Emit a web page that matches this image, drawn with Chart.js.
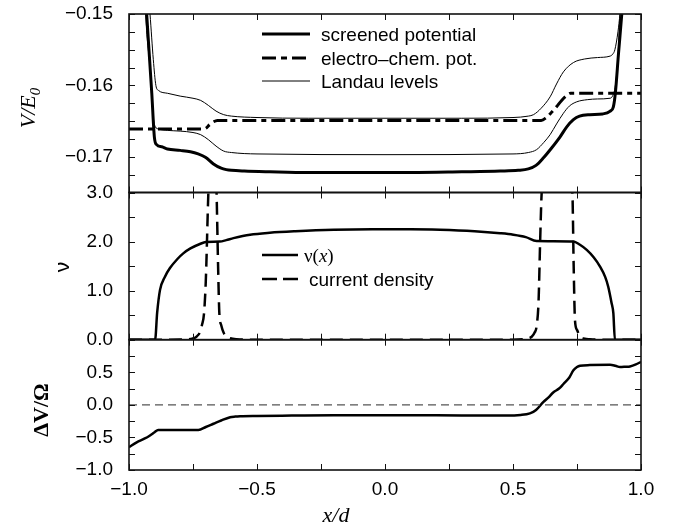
<!DOCTYPE html>
<html>
<head>
<meta charset="utf-8">
<script src="https://cdn.jsdelivr.net/npm/chart.js@4"></script>
<style>
  html, body { margin: 0; padding: 0; background: #fff; }
  #wrap { position: relative; width: 678px; height: 529px; background: #fff; }
  #wrap canvas { position: absolute; left: 0; top: 0; }
</style>
</head>
<body>
<div id="wrap">
  <canvas id="c1" width="678" height="529"></canvas>
  <canvas id="c2" width="678" height="529"></canvas>
  <canvas id="c3" width="678" height="529"></canvas>
</div>
<script>
// ---------- tick values ----------
const xTickMarks = [-1, -0.75, -0.5, -0.25, 0, 0.25, 0.5, 0.75, 1];
const xLabels = [-1, -0.5, 0, 0.5, 1];
const topYLabels = [-0.17, -0.16, -0.15];
const topYMarks = [-0.175, -0.1725, -0.17, -0.1675, -0.165, -0.1625, -0.16, -0.1575, -0.155, -0.1525, -0.15];
const midYLabels = [0, 1, 2, 3];
const midYMarks = [0, 0.5, 1, 1.5, 2, 2.5, 3];
const botYLabels = [-1, -0.5, 0, 0.5];
const botYMarks = [-1, -0.75, -0.5, -0.25, 0, 0.25, 0.5, 0.75, 1];

// ---------- top panel: potentials ----------
const scrX = [-0.95, -0.931, -0.911, -0.901, -0.892, -0.872, -0.85, -0.80, -0.76, -0.73, -0.70, -0.67, -0.64, -0.62, -0.60, -0.55, -0.45, -0.3, -0.1, 0.1, 0.3, 0.45, 0.52, 0.56, 0.59, 0.62, 0.65, 0.684, 0.71, 0.736, 0.76, 0.80, 0.85, 0.88, 0.892, 0.90, 0.912, 0.925, 0.94];
const scrY = [-0.1405, -0.15, -0.1611, -0.1672, -0.1683, -0.1686, -0.1689, -0.1691, -0.1693, -0.1696, -0.1701, -0.1710, -0.1716, -0.1718, -0.1719, -0.1720, -0.1721, -0.1722, -0.1722, -0.1722, -0.1721, -0.1720, -0.1719, -0.1717, -0.1712, -0.1701, -0.1688, -0.1672, -0.1658, -0.1648, -0.1643, -0.1641, -0.1640, -0.1636, -0.1630, -0.1610, -0.1556, -0.15, -0.143];

const ecX = [-1, -0.75, -0.71, -0.70, -0.685, -0.67, -0.655, -0.5, 0, 0.5, 0.61, 0.63, 0.65, 0.67, 0.69, 0.71, 0.725, 0.8, 1];
const ecY = [-0.1661, -0.1661, -0.1661, -0.1660, -0.1655, -0.1651, -0.1649, -0.1649, -0.1649, -0.1649, -0.1649, -0.1645, -0.1638, -0.1630, -0.1621, -0.1614, -0.1611, -0.1611, -0.1611];

const ll1X = [-0.94, -0.918, -0.905, -0.895, -0.885, -0.85, -0.80, -0.75, -0.72, -0.69, -0.66, -0.63, -0.60, -0.5, -0.3, 0, 0.3, 0.5, 0.56, 0.58, 0.61, 0.645, 0.67, 0.697, 0.736, 0.78, 0.83, 0.879, 0.89, 0.898, 0.91, 0.918, 0.93];
const ll1Y = [-0.141, -0.15, -0.1564, -0.1600, -0.1607, -0.1611, -0.1615, -0.1618, -0.1621, -0.1628, -0.1636, -0.1641, -0.1643, -0.1645, -0.1646, -0.1646, -0.1646, -0.1645, -0.1643, -0.1641, -0.1632, -0.1616, -0.1598, -0.1581, -0.1568, -0.1563, -0.1561, -0.1559, -0.1556, -0.1550, -0.1525, -0.15, -0.146];

const ll0X = [-0.94, -0.935, -0.915, -0.905, -0.897, -0.885, -0.85, -0.80, -0.75, -0.72, -0.69, -0.66, -0.63, -0.60, -0.5, 0, 0.5, 0.56, 0.592, 0.62, 0.645, 0.67, 0.697, 0.72, 0.749, 0.79, 0.83, 0.879, 0.89, 0.90, 0.91, 0.918, 0.93];
const ll0Y = [-0.145, -0.15, -0.1587, -0.1645, -0.1658, -0.1661, -0.1663, -0.1664, -0.1666, -0.1669, -0.1676, -0.1685, -0.1692, -0.1694, -0.1696, -0.1697, -0.1696, -0.1694, -0.1690, -0.1680, -0.1669, -0.1654, -0.1639, -0.1629, -0.1623, -0.1620, -0.1619, -0.1618, -0.1614, -0.1600, -0.1560, -0.15, -0.144];

// ---------- middle panel: filling factor & current ----------
const nuX = [-1, -0.898, -0.89, -0.879, -0.86, -0.84, -0.81, -0.788, -0.76, -0.723, -0.70, -0.645, -0.62, -0.592, -0.527, -0.45, -0.35, -0.2, -0.05, 0.1, 0.215, 0.35, 0.45, 0.501, 0.55, 0.592, 0.736, 0.76, 0.788, 0.815, 0.84, 0.86, 0.872, 0.885, 0.892, 0.898, 1];
const nuY = [0, 0, 0.55, 1.01, 1.28, 1.46, 1.65, 1.76, 1.86, 1.95, 1.99, 2.0, 2.03, 2.07, 2.14, 2.18, 2.21, 2.24, 2.25, 2.25, 2.24, 2.21, 2.17, 2.14, 2.09, 2.01, 2.0, 1.94, 1.83, 1.68, 1.49, 1.28, 1.08, 0.75, 0.54, 0, 0];

const jX = [-1, -0.9, -0.8, -0.76, -0.746, -0.735, -0.723, -0.715, -0.707, -0.70, -0.69, -0.674, -0.658, -0.652, -0.647, -0.64, -0.631, -0.62, -0.605, -0.58, -0.5, 0, 0.4, 0.5, 0.55, 0.573, 0.585, 0.592, 0.60, 0.606, 0.612, 0.67, 0.732, 0.737, 0.742, 0.75, 0.762, 0.78, 0.8, 0.85, 1];
const jY = [0, 0, 0.005, 0.015, 0.03, 0.07, 0.15, 0.3, 0.53, 1.2, 3.0, 5, 3.0, 1.5, 0.53, 0.3, 0.15, 0.07, 0.03, 0.01, 0, 0, 0, 0, 0.02, 0.06, 0.15, 0.27, 0.8, 2.0, 3.0, 5, 3.0, 1.5, 0.4, 0.2, 0.06, 0.02, 0.01, 0, 0];

// ---------- bottom panel: Hall voltage ----------
const dvX = [-1, -0.97, -0.94, -0.918, -0.9, -0.886, -0.8, -0.729, -0.70, -0.67, -0.64, -0.605, -0.585, -0.566, -0.5, -0.364, -0.2, 0, 0.2, 0.4, 0.475, 0.53, 0.566, 0.59, 0.618, 0.64, 0.657, 0.68, 0.697, 0.72, 0.736, 0.75, 0.762, 0.8, 0.879, 0.9, 0.918, 0.94, 0.957, 0.98, 1];
const dvY = [-0.65, -0.575, -0.52, -0.47, -0.42, -0.385, -0.385, -0.385, -0.34, -0.29, -0.24, -0.19, -0.18, -0.175, -0.17, -0.165, -0.16, -0.16, -0.16, -0.165, -0.165, -0.155, -0.13, -0.08, 0.04, 0.12, 0.19, 0.25, 0.32, 0.42, 0.53, 0.58, 0.6, 0.61, 0.615, 0.6, 0.58, 0.585, 0.59, 0.62, 0.66];
const zeroX = [-1, 1];
const zeroY = [0, 0];

// ---------- helpers ----------
const pts = (xs, ys) => xs.map((x, i) => ({ x: x, y: ys[i] }));
const fmt = (v, d) => (v < -1e-12 ? '\u2212' : '') + Math.abs(v).toFixed(d);
const SANS = 'Liberation Sans, Arial, sans-serif';
const SERIF = 'Liberation Serif, Times New Roman, serif';
const W = 678, H = 529;
const LEFT = 129, RIGHT_PAD = 37;

const framePlugin = {
  id: 'frame',
  afterDatasetsDraw(chart, args, opts) {
    const { ctx, chartArea: a, scales } = chart;
    const xs = scales.x, ys = scales.y;
    const L = 6;
    ctx.save();
    ctx.strokeStyle = '#111';
    ctx.lineWidth = 1;
    ctx.beginPath();
    xTickMarks.forEach(v => {
      const p = Math.round(xs.getPixelForValue(v)) + 0.5;
      ctx.moveTo(p, a.top); ctx.lineTo(p, a.top + L);
      ctx.moveTo(p, a.bottom); ctx.lineTo(p, a.bottom - L);
    });
    (opts.yMarks || []).forEach(v => {
      const p = Math.round(ys.getPixelForValue(v)) + 0.5;
      ctx.moveTo(a.left, p); ctx.lineTo(a.left + L, p);
      ctx.moveTo(a.right, p); ctx.lineTo(a.right - L, p);
    });
    ctx.stroke();
    ctx.lineWidth = 1.6;
    ctx.strokeRect(a.left, a.top, a.right - a.left, a.bottom - a.top);
    ctx.restore();
  }
};

function drawParts(ctx, x, y, parts, rotate) {
  ctx.save();
  ctx.translate(x, y);
  if (rotate) ctx.rotate(-Math.PI / 2);
  ctx.fillStyle = '#000';
  ctx.textBaseline = 'alphabetic';
  ctx.textAlign = 'left';
  let total = 0;
  parts.forEach(p => { ctx.font = p.font; total += ctx.measureText(p.t).width; });
  let cx = -total / 2;
  parts.forEach(p => {
    ctx.font = p.font;
    ctx.fillText(p.t, cx, (p.dy || 0) + (p.base || 0));
    cx += ctx.measureText(p.t).width;
  });
  ctx.restore();
}

const textPlugin = {
  id: 'texts',
  afterDraw(chart, args, opts) {
    const ctx = chart.ctx;
    (opts.titles || []).forEach(t => drawParts(ctx, t.x, t.y, t.parts, t.rotate));
    const ds = chart.data.datasets;
    (opts.legend || []).forEach(it => {
      const d = ds[it.ds];
      ctx.save();
      ctx.strokeStyle = d.borderColor;
      ctx.lineWidth = d.borderWidth;
      ctx.setLineDash(it.dash || []);
      ctx.beginPath();
      ctx.moveTo(it.x0, it.y); ctx.lineTo(it.x1, it.y);
      ctx.stroke();
      ctx.restore();
      drawParts(ctx, it.tx, it.y, it.parts.map(p => Object.assign({ base: 7 }, p)), false);
    });
  }
};

function yScale(min, max, labels, dec) {
  return {
    type: 'linear', min: min, max: max,
    afterFit: s => { s.width = LEFT; s.paddingTop = 0; s.paddingBottom = 0; },
    afterBuildTicks: s => { s.ticks = labels.map(v => ({ value: v })); },
    grid: { display: false, drawTicks: false }, border: { display: false },
    ticks: { color: '#000', font: { family: SANS, size: 19 }, padding: 16, callback: v => fmt(v, dec) }
  };
}

const baseOpts = (padTop, padBottom) => ({
  responsive: false, animation: false, devicePixelRatio: 1,
  layout: { padding: { left: 0, right: RIGHT_PAD, top: padTop, bottom: padBottom } },
  elements: { point: { radius: 0 }, line: { cubicInterpolationMode: 'monotone', borderCapStyle: 'butt' } },
  events: []
});

const line = (label, data, width, dash, color) => ({
  label: label, data: data, borderColor: color || '#000', borderWidth: width,
  borderDash: dash || [], fill: false, clip: 0, pointRadius: 0
});

// measure text widths to left-align legend text (drawParts centres text)
const mctx = document.createElement('canvas').getContext('2d');
function leftAt(x, parts) {
  let w = 0; parts.forEach(p => { mctx.font = p.font; w += mctx.measureText(p.t).width; });
  return x + w / 2;
}

const LEG_FONT = '19px ' + SANS;

// ---------- top chart ----------
const topLegend = [
  { ds: 0, x0: 262, x1: 310, y: 34, dash: [], parts: [{ t: 'screened potential', font: LEG_FONT }] },
  { ds: 1, x0: 262, x1: 310, y: 58, dash: [14, 5, 6, 5], parts: [{ t: 'electro\u2013chem. pot.', font: LEG_FONT }] },
  { ds: 2, x0: 262, x1: 310, y: 81, dash: [], parts: [{ t: 'Landau levels', font: LEG_FONT }] }
];
topLegend.forEach(it => { it.tx = leftAt(321, it.parts); });

const o1 = baseOpts(14, H - 192.5);
o1.scales = { x: { type: 'linear', min: -1, max: 1, display: false }, y: yScale(-0.175, -0.15, topYLabels, 2) };
o1.plugins = {
  legend: { display: false }, tooltip: { enabled: false },
  frame: { yMarks: topYMarks },
  texts: {
    titles: [{ x: 35, y: 108, rotate: true, parts: [
      { t: 'V/E', font: 'italic 22px ' + SERIF },
      { t: '0', font: 'italic 15px ' + SERIF, dy: 5 }
    ] }],
    legend: topLegend
  }
};
new Chart(document.getElementById('c1'), {
  type: 'line',
  data: { datasets: [
    line('screened potential', pts(scrX, scrY), 3),
    line('electro-chem. pot.', pts(ecX, ecY), 3, [14, 5, 5, 5]),
    line('Landau levels', pts(ll1X, ll1Y), 1),
    line('Landau levels (lower)', pts(ll0X, ll0Y), 1)
  ] },
  options: o1,
  plugins: [framePlugin, textPlugin]
});

// ---------- middle chart ----------
const nuParts = [
  { t: '\u03bd(', font: '19px ' + SERIF },
  { t: 'x', font: 'italic 19px ' + SERIF },
  { t: ')', font: '19px ' + SERIF }
];
const midLegend = [
  { ds: 0, x0: 262, x1: 298, y: 255, dash: [], parts: nuParts },
  { ds: 1, x0: 262, x1: 298, y: 279, dash: [15, 6], parts: [{ t: 'current density', font: LEG_FONT }] }
];
midLegend[0].tx = leftAt(304, nuParts);
midLegend[1].tx = leftAt(309, midLegend[1].parts);

const o2 = baseOpts(192.5, H - 339.7);
o2.scales = { x: { type: 'linear', min: -1, max: 1, display: false }, y: yScale(0, 3, midYLabels, 1) };
o2.plugins = {
  legend: { display: false }, tooltip: { enabled: false },
  frame: { yMarks: midYMarks },
  texts: {
    titles: [{ x: 69, y: 267, rotate: true, parts: [{ t: '\u03bd', font: '21px ' + SANS }] }],
    legend: midLegend
  }
};
new Chart(document.getElementById('c2'), {
  type: 'line',
  data: { datasets: [
    line('\u03bd(x)', pts(nuX, nuY), 2.5),
    line('current density', pts(jX, jY), 2.5, [13, 7])
  ] },
  options: o2,
  plugins: [framePlugin, textPlugin]
});

// ---------- bottom chart ----------
const o3 = baseOpts(339.7, 0);
o3.scales = {
  x: {
    type: 'linear', min: -1, max: 1, position: 'bottom',
    afterFit: s => { s.height = 59; },
    afterBuildTicks: s => { s.ticks = xLabels.map(v => ({ value: v })); },
    grid: { display: false, drawTicks: false }, border: { display: false },
    ticks: { color: '#000', font: { family: SANS, size: 19 }, padding: 8, maxRotation: 0, callback: v => fmt(v, 1) }
  },
  y: yScale(-1, 1, botYLabels, 1)
};
o3.plugins = {
  legend: { display: false }, tooltip: { enabled: false },
  frame: { yMarks: botYMarks },
  texts: {
    titles: [
      { x: 48, y: 410, rotate: true, parts: [{ t: '\u0394V/\u03a9', font: 'bold 22px ' + SERIF }] },
      { x: 336, y: 522, rotate: false, parts: [
        { t: 'x', font: 'italic 22px ' + SERIF },
        { t: '/', font: 'italic 22px ' + SERIF },
        { t: 'd', font: 'italic 22px ' + SERIF }
      ] }
    ],
    legend: []
  }
};
new Chart(document.getElementById('c3'), {
  type: 'line',
  data: { datasets: [
    line('zero', pts(zeroX, zeroY), 1.3, [8, 5], '#555'),
    line('\u0394V', pts(dvX, dvY), 2.5)
  ] },
  options: o3,
  plugins: [framePlugin, textPlugin]
});
</script>
</body>
</html>
